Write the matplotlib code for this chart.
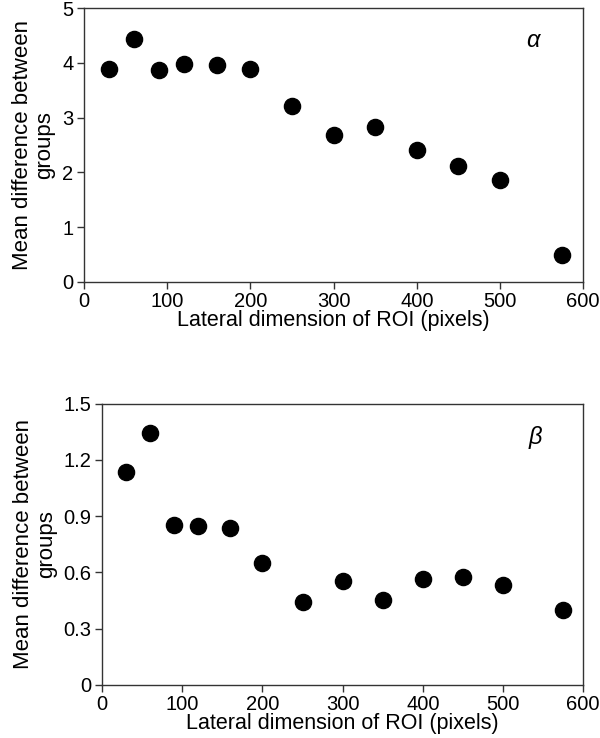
import matplotlib
matplotlib.use("Agg")
import matplotlib.pyplot as plt

plt.rcParams['font.family'] = ['Liberation Sans', 'DejaVu Sans']

roi_size = [30, 60, 90, 120, 160, 200, 250, 300, 350, 400, 450, 500, 575]
alpha_diff = [3.88, 4.43, 3.87, 3.98, 3.97, 3.88, 3.21, 2.68, 2.83, 2.41, 2.11, 1.86, 0.49]
beta_diff = [1.135, 1.345, 0.855, 0.848, 0.838, 0.648, 0.44, 0.555, 0.455, 0.565, 0.578, 0.535, 0.402]

x_ticks = [0, 100, 200, 300, 400, 500, 600]
alpha_ticks = [0, 1, 2, 3, 4, 5]
beta_ticks = [0, 0.3, 0.6, 0.9, 1.2, 1.5]
beta_labels = ['0', '0.3', '0.6', '0.9', '1.2', '1.5']

fig = plt.figure(figsize=(6, 7.38), dpi=100)
ax1 = fig.add_axes([0.14, 0.618, 0.832, 0.371])
ax2 = fig.add_axes([0.17, 0.072, 0.802, 0.381])

def style(ax, yticks, ylabels, letter):
    ax.set_xlim(0, 600)
    ax.set_xticks(x_ticks)
    ax.set_yticks(yticks)
    ax.set_yticklabels(ylabels)
    ax.set_ylim(yticks[0], yticks[-1])
    ax.tick_params(direction='out', length=5, width=1, labelsize=14.5,
                   color='#333333', pad=2.5)
    for s in ax.spines.values():
        s.set_color('#333333')
        s.set_linewidth(1)
    ax.set_xlabel('Lateral dimension of ROI (pixels)', fontsize=15.5, labelpad=-1)
    ax.set_ylabel('Mean difference between\ngroups', fontsize=16,
                  labelpad=5, linespacing=1.1)
    ax.text(0.9, 0.88, letter, transform=ax.transAxes, fontsize=17,
            style='italic', ha='center', va='center')

ax1.scatter(roi_size, alpha_diff, s=135, c='black', clip_on=False, zorder=3)
style(ax1, alpha_ticks, [str(t) for t in alpha_ticks], 'α')

ax2.scatter(roi_size, beta_diff, s=135, c='black', clip_on=False, zorder=3)
style(ax2, beta_ticks, beta_labels, 'β')

fig.savefig('out.png', dpi=100)
